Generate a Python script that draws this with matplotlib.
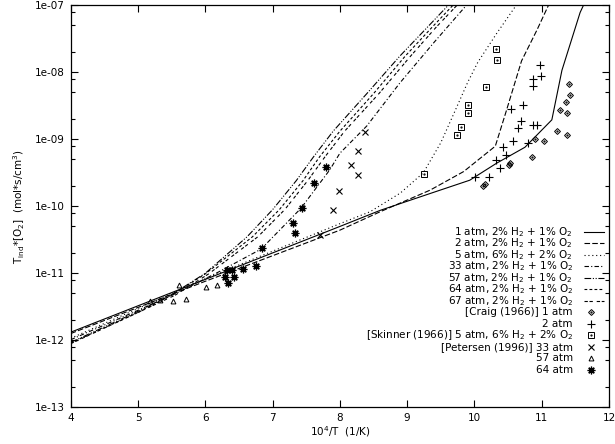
import numpy as np
import matplotlib
matplotlib.use("Agg")
import matplotlib.pyplot as plt
from matplotlib.ticker import LogLocator, FuncFormatter, FixedLocator

plt.rcParams['font.family'] = ['DejaVu Sans']
plt.rcParams['font.size'] = 7.5
plt.rcParams['mathtext.default'] = 'regular'

# ---- simulated curves: 10^4/T and tau_ind*[O2] (mol*s/cm^3) ----
x_1atm = [4, 6, 8, 8.6, 9.34, 9.93, 10.33, 10.75, 11.15, 11.30, 11.57, 11.62]
y_1atm = [1.32e-12, 8.1e-12, 5.0e-11, 8.7e-11, 1.55e-10, 2.45e-10, 4.4e-10, 7.6e-10,
          1.95e-9, 1.07e-8, 7.8e-8, 1e-7]

x_2atm = [4, 6, 8, 8.6, 9.34, 9.84, 10.31, 10.46, 10.70, 10.93, 11.1]
y_2atm = [1.26e-12, 7.6e-12, 4.4e-11, 8.3e-11, 1.74e-10, 3.3e-10, 7.9e-10, 2.4e-9,
          1.48e-8, 4.3e-8, 1e-7]

x_5atm = [4, 6, 8, 8.45, 8.9, 9.24, 9.5, 9.7, 9.9, 10.05, 10.33, 10.62]
y_5atm = [1.07e-12, 8.3e-12, 5.5e-11, 8.3e-11, 1.58e-10, 3.16e-10, 8.9e-10, 2.5e-9,
          7.1e-9, 1.41e-8, 3.8e-8, 1e-7]

x_33atm = [4, 5, 5.6, 6.2, 6.83, 7.42, 7.85, 8.0, 8.4, 8.89, 9.4, 9.88]
y_33atm = [1.02e-12, 2.8e-12, 5.2e-12, 1.05e-11, 2.3e-11, 9.3e-11, 3.5e-10, 6.2e-10,
           1.58e-9, 6.9e-9, 2.8e-8, 1e-7]

x_57atm = [4, 5, 5.5, 6, 6.62, 7.0, 7.35, 7.61, 7.9, 8.4, 8.89, 9.3, 9.61]
y_57atm = [9.3e-13, 2.7e-12, 4.8e-12, 1.0e-11, 3.5e-11, 8.9e-11, 2.4e-10, 5.5e-10,
           1.32e-9, 4.8e-9, 1.74e-8, 4.7e-8, 1e-7]

x_64atm = [4, 5, 5.5, 6, 6.7, 7.1, 7.45, 7.7, 8.0, 8.5, 8.97, 9.37, 9.68]
y_64atm = [9.1e-13, 2.6e-12, 4.7e-12, 9.8e-12, 3.5e-11, 8.9e-11, 2.4e-10, 5.5e-10,
           1.32e-9, 4.8e-9, 1.74e-8, 4.7e-8, 1e-7]

x_67atm = [4, 5, 5.55, 6.05, 6.78, 7.18, 7.52, 7.78, 8.07, 8.58, 9.05, 9.43, 9.74]
y_67atm = [8.9e-13, 2.6e-12, 4.7e-12, 9.8e-12, 3.5e-11, 8.9e-11, 2.4e-10, 5.5e-10,
           1.32e-9, 4.8e-9, 1.74e-8, 4.7e-8, 1e-7]

# ---- experimental data ----
craig_x = [11.41, 11.42, 11.36, 11.27, 11.38, 11.23, 11.37, 10.90, 11.03, 10.86,
           10.51, 10.53, 10.13, 10.15]
craig_y = [6.6e-9, 4.6e-9, 3.6e-9, 2.75e-9, 2.5e-9, 1.35e-9, 1.15e-9, 1.0e-9, 9.3e-10,
           5.4e-10, 4.2e-10, 4.4e-10, 2.0e-10, 2.15e-10]

craig2_x = [10.97, 10.99, 10.87, 10.87, 10.72, 10.54, 10.69, 10.64, 10.87, 10.93,
            10.58, 10.80, 10.42, 10.47, 10.32, 10.38, 10.01, 10.22]
craig2_y = [1.29e-8, 8.9e-9, 7.9e-9, 6.2e-9, 3.3e-9, 2.8e-9, 1.9e-9, 1.45e-9, 1.62e-9,
            1.66e-9, 9.3e-10, 8.7e-10, 7.6e-10, 5.9e-10, 4.9e-10, 3.7e-10, 2.7e-10, 2.7e-10]

skinner_x = [9.25, 9.74, 9.80, 9.90, 9.91, 10.17, 10.34, 10.32]
skinner_y = [3.0e-10, 1.15e-9, 1.55e-9, 2.45e-9, 3.3e-9, 6.0e-9, 1.55e-8, 2.2e-8]

pet33_x = [8.37, 8.27, 8.16, 8.27, 7.99, 7.90, 7.70]
pet33_y = [1.29e-9, 6.8e-10, 4.2e-10, 2.95e-10, 1.7e-10, 8.7e-11, 3.7e-11]

pet57_x = [5.18, 5.33, 5.52, 5.61, 5.71, 6.01, 6.18]
pet57_y = [3.8e-12, 4.0e-12, 3.8e-12, 6.6e-12, 4.1e-12, 6.2e-12, 6.6e-12]

pet64_x = [7.80, 7.61, 7.43, 7.31, 7.33, 6.84, 6.75, 6.56, 6.32, 6.40, 6.29, 6.43, 6.33]
pet64_y = [3.9e-10, 2.2e-10, 9.3e-11, 5.6e-11, 4.0e-11, 2.35e-11, 1.29e-11, 1.17e-11,
           1.12e-11, 1.12e-11, 8.9e-12, 8.9e-12, 7.1e-12]

curve_labels = ['1 atm, 2% H$_2$ + 1% O$_2$', '2 atm, 2% H$_2$ + 1% O$_2$',
                '5 atm, 6% H$_2$ + 2% O$_2$', '33 atm, 2% H$_2$ + 1% O$_2$',
                '57 atm, 2% H$_2$ + 1% O$_2$', '64 atm, 2% H$_2$ + 1% O$_2$',
                '67 atm, 2% H$_2$ + 1% O$_2$']
data_labels = ['[Craig (1966)] 1 atm', '2 atm',
               '[Skinner (1966)] 5 atm, 6% H$_2$ + 2% O$_2$',
               '[Petersen (1996)] 33 atm', '57 atm', '64 atm']

curves = [(x_1atm, y_1atm), (x_2atm, y_2atm), (x_5atm, y_5atm), (x_33atm, y_33atm),
          (x_57atm, y_57atm), (x_64atm, y_64atm), (x_67atm, y_67atm)]
dashes = [None, (5, 2), (1, 2.5), (4, 2, 1, 2), (6, 1.5, 1, 1.5, 1, 1.5), (2.5, 2),
          (3, 1.5, 3, 3.5)]

datasets = [(craig_x, craig_y, 'D', 3.0), (craig2_x, craig2_y, '+', 6.0),
            (skinner_x, skinner_y, 's', 4.5), (pet33_x, pet33_y, 'x', 4.5),
            (pet57_x, pet57_y, '^', 3.5), (pet64_x, pet64_y, '*', 5.5)]

fig = plt.figure(figsize=(6.15, 4.44), dpi=100)
ax = fig.add_axes([0.115, 0.0827, 0.8753, 0.9054])

lw = 0.8
for (xs, ys), d in zip(curves, dashes):
    line, = ax.plot(xs, ys, color='black', lw=lw)
    if d is not None:
        line.set_dashes(d)

def draw_points(xs, ys, m, ms, **kw):
    if m in ('+', 'x'):
        ax.plot(xs, ys, ls='none', marker=m, ms=ms, mec='black', mew=0.8, **kw)
    elif m == '*':
        # gnuplot's asterisk: + and x on top of each other
        ax.plot(xs, ys, ls='none', marker=(8, 2, 0), ms=ms, mec='black', mew=0.9, **kw)
    else:
        ax.plot(xs, ys, ls='none', marker=m, ms=ms, mfc='none', mec='black', mew=0.7, **kw)
        if m in ('D', 's'):
            ax.plot(xs, ys, ls='none', marker='.', ms=1.2, color='black', **kw)

for xs, ys, m, ms in datasets:
    draw_points(xs, ys, m, ms)

ax.set_xlim(4, 12)
ax.set_yscale('log')
ax.set_ylim(1e-13, 1e-7)

ax.xaxis.set_major_locator(FixedLocator(np.arange(4, 13)))
ax.yaxis.set_major_locator(LogLocator(base=10, numticks=20))
ax.yaxis.set_minor_locator(LogLocator(base=10, subs=(2, 5, 8), numticks=20))
ax.yaxis.set_major_formatter(FuncFormatter(lambda v, p: f"{v:.0e}"))
ax.yaxis.set_minor_formatter(FuncFormatter(lambda v, p: ""))
ax.tick_params(which='both', direction='in', top=True, right=True, labelsize=7.5,
               width=0.8, pad=4)
ax.tick_params(which='major', length=5)
ax.tick_params(which='minor', length=3)
for sp in ax.spines.values():
    sp.set_linewidth(0.9)

ax.set_xlabel('10$^4$/T  (1/K)', fontsize=7.5, labelpad=1)
ax.set_ylabel('T$_{ind}$*[O$_2$]  (mol*s/cm$^3$)', fontsize=7.5, labelpad=6)

# key, gnuplot-style: right aligned text, sample on the right
def row_y(i):
    return 1 - (232 + i * 11.5 - 5.3) / 402.0

tx, lx0, lx1, mx = 0.933, 0.9535, 0.990, 0.966
for i, (lab, d) in enumerate(zip(curve_labels, dashes)):
    yy = row_y(i)
    ax.text(tx, yy, lab, transform=ax.transAxes, ha='right', va='center', fontsize=7.5)
    ln, = ax.plot([lx0, lx1], [yy, yy], transform=ax.transAxes, color='black', lw=lw,
                  clip_on=False)
    if d is not None:
        ln.set_dashes(d)
for j, (lab, (xs, ys, m, ms)) in enumerate(zip(data_labels, datasets)):
    yy = row_y(7 + j)
    ax.text(tx, yy, lab, transform=ax.transAxes, ha='right', va='center', fontsize=7.5)
    draw_points([mx], [yy], m, ms, transform=ax.transAxes, clip_on=False)

fig.savefig('out.png', dpi=100)
